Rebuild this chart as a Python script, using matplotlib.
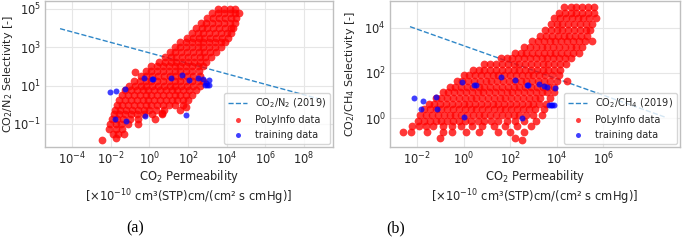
import numpy as np
import matplotlib
matplotlib.use("Agg")
import matplotlib.pyplot as plt
from matplotlib.ticker import FixedLocator, LogFormatterSciNotation

# PoLyInfo cloud: (log10 selectivity, [log10 permeability ...])
poly_a_rows = [
    (5.0, [3.55, 3.85, 4.15, 4.45]),
    (4.75, [3.25, 3.55, 3.85, 4.15, 4.45, 4.65]),
    (4.5, [3.0, 3.3, 3.6, 3.9, 4.2, 4.5]),
    (4.25, [2.65, 2.95, 3.25, 3.55, 3.85, 4.15, 4.45]),
    (4.0, [2.4, 2.7, 3.0, 3.3, 3.6, 3.9, 4.2, 4.35]),
    (3.75, [2.2, 2.5, 2.8, 3.1, 3.4, 3.7, 4.0, 4.2]),
    (3.5, [1.95, 2.25, 2.55, 2.85, 3.15, 3.45, 3.75, 4.05]),
    (3.25, [1.6, 1.9, 2.2, 2.5, 2.8, 3.1, 3.4, 3.7, 3.9]),
    (3.0, [1.3, 1.6, 1.9, 2.2, 2.5, 2.8, 3.1, 3.4, 3.7]),
    (2.75, [1.05, 1.35, 1.65, 1.95, 2.25, 2.55, 2.85, 3.15, 3.45]),
    (2.5, [0.8, 1.1, 1.4, 1.7, 2.0, 2.3, 2.6, 2.9, 3.2]),
    (2.25, [0.5, 0.8, 1.1, 1.4, 1.7, 2.0, 2.3, 2.6, 2.95]),
    (2.0, [0.1, 0.4, 0.7, 1.0, 1.3, 1.6, 1.9, 2.2, 2.5, 2.8]),
    (1.75, [-0.2, 0.1, 0.4, 0.7, 1.0, 1.3, 1.6, 1.9, 2.2, 2.55]),
    (1.5, [-0.45, -0.15, 0.15, 0.45, 0.75, 1.05, 1.35, 1.65, 1.95, 2.25, 2.6]),
    (1.25, [-0.8, -0.5, -0.2, 0.1, 0.4, 0.7, 1.0, 1.3, 1.6, 1.9, 2.2, 2.5, 2.8]),
    (1.0, [-1.05, -0.75, -0.45, -0.15, 0.15, 0.45, 0.75, 1.05, 1.35, 1.65, 1.95, 2.25, 2.6]),
    (0.75, [-1.25, -0.95, -0.65, -0.35, -0.05, 0.25, 0.55, 0.85, 1.15, 1.45, 1.75, 2.05, 2.4]),
    (0.5, [-1.4, -1.1, -0.8, -0.5, -0.2, 0.1, 0.4, 0.7, 1.0, 1.3, 1.6, 1.9, 2.2]),
    (0.25, [-1.55, -1.25, -0.95, -0.65, -0.35, -0.05, 0.25, 0.55, 0.85, 1.15, 1.45, 1.75, 2.0]),
    (0.0, [-1.7, -1.4, -1.1, -0.8, -0.5, -0.2, 0.1, 0.4, 0.7, 1.0, 1.35, 1.75]),
    (-0.25, [-1.8, -1.5, -1.2, -0.9, -0.6, -0.3, 0.0, 0.35, 0.75, 1.6]),
    (-0.5, [-1.85, -1.55, -1.25, -0.95, -0.65, -0.3, 0.15, 0.65]),
    (-0.75, [-1.95, -1.65, -1.35, -1.0, -0.6, 0.3]),
    (-1.0, [-2.05, -1.75, -1.45, -1.1, -0.6]),
    (-1.25, [-2.1, -1.75, -1.4]),
    (-1.5, [-1.9, -1.6, -1.3]),
    (-1.75, [-1.75]),
    (-1.85, [-2.45]),
    (1.68, [-0.74]),
    (-0.45, [0.64]),
    (-0.11, [1.9]),
]

poly_b_rows = [
    (4.9, [4.3, 4.6, 4.85, 5.1, 5.35, 5.6]),
    (4.65, [4.1, 4.35, 4.6, 4.85, 5.1, 5.35, 5.6]),
    (4.4, [3.9, 4.15, 4.4, 4.65, 4.9, 5.15, 5.4, 5.7]),
    (4.15, [3.75, 4.0, 4.25, 4.5, 4.75, 5.0, 5.25, 5.5]),
    (3.9, [3.5, 3.75, 4.0, 4.25, 4.5, 4.75, 5.0, 5.25, 5.45]),
    (3.65, [3.3, 3.55, 3.8, 4.05, 4.3, 4.55, 4.8, 5.05, 5.3]),
    (3.4, [2.95, 3.2, 3.45, 3.7, 3.95, 4.2, 4.45, 4.7, 4.95, 5.2, 5.5]),
    (3.15, [2.6, 2.85, 3.1, 3.35, 3.6, 3.85, 4.1, 4.35, 4.6, 4.85, 5.1]),
    (2.9, [2.2, 2.45, 2.7, 2.95, 3.2, 3.45, 3.7, 3.95, 4.2, 4.45, 4.7, 4.95]),
    (2.65, [1.6, 1.85, 2.1, 2.35, 2.6, 2.85, 3.1, 3.35, 3.6, 3.85, 4.1, 4.35, 4.6]),
    (2.4, [0.9, 1.15, 1.4, 1.65, 1.9, 2.15, 2.4, 2.65, 2.9, 3.15, 3.4, 3.65, 3.9, 4.15, 4.4]),
    (2.15, [0.4, 0.65, 0.9, 1.15, 1.4, 1.65, 1.9, 2.15, 2.4, 2.65, 2.9, 3.15, 3.4, 3.65, 3.9, 4.15]),
    (1.9, [0.0, 0.25, 0.5, 0.75, 1.0, 1.25, 1.5, 1.75, 2.0, 2.25, 2.5, 2.75, 3.0, 3.25, 3.5, 3.8, 4.1]),
    (1.65, [-0.3, -0.05, 0.2, 0.45, 0.7, 0.95, 1.2, 1.45, 1.7, 1.95, 2.2, 2.45, 2.7, 2.95, 3.2, 3.45, 3.7, 4.0, 4.44]),
    (1.4, [-0.6, -0.35, -0.1, 0.15, 0.4, 0.65, 0.9, 1.15, 1.4, 1.65, 1.9, 2.15, 2.4, 2.65, 2.9, 3.15, 3.4, 3.65, 3.9]),
    (1.15, [-0.9, -0.65, -0.4, -0.15, 0.1, 0.35, 0.6, 0.85, 1.1, 1.35, 1.6, 1.85, 2.1, 2.35, 2.6, 2.85, 3.1, 3.35, 3.6, 3.9]),
    (0.9, [-1.2, -0.95, -0.7, -0.45, -0.2, 0.05, 0.3, 0.55, 0.8, 1.05, 1.3, 1.55, 1.8, 2.05, 2.3, 2.55, 2.8, 3.05, 3.3, 3.7]),
    (0.65, [-1.5, -1.25, -1.0, -0.75, -0.5, -0.25, 0.0, 0.25, 0.5, 0.75, 1.0, 1.25, 1.5, 1.75, 2.0, 2.25, 2.5, 2.75, 3.0, 3.25, 3.55]),
    (0.4, [-1.7, -1.45, -1.2, -0.95, -0.7, -0.45, -0.2, 0.05, 0.3, 0.55, 0.8, 1.05, 1.3, 1.55, 1.8, 2.05, 2.3, 2.55, 2.8, 3.05, 3.45]),
    (0.15, [-1.85, -1.6, -1.35, -1.1, -0.85, -0.6, -0.35, -0.1, 0.15, 0.4, 0.65, 0.9, 1.15, 1.4, 1.65, 1.9, 2.15, 2.4, 2.7, 3.0, 3.35]),
    (-0.1, [-1.95, -1.7, -1.45, -1.2, -0.95, -0.7, -0.45, -0.2, 0.05, 0.3, 0.6, 0.9, 1.2, 1.5, 1.85, 2.2, 2.6, 3.1]),
    (-0.35, [-2.2, -1.9, -1.6, -1.3, -0.9, -0.5, -0.1, 0.35, 0.8, 1.3, 1.8, 2.3, 2.9]),
    (-0.6, [-2.6, -2.25, -1.55, -0.9, -0.5, 0.1, 0.65, 1.5, 2.0, 2.6]),
    (-0.85, [-1.0, 2.2]),
    (-0.97, [2.5]),
]

# training data (log10 values)
train_a_logP = [-2.03, -1.72, -1.24, -1.79, -1.22, -0.27, 0.12, 0.17, -0.21, 1.12,
                1.68, 2.07, 1.90, 2.53, 2.79, 3.10, 2.90, 3.00, 3.10, 2.93]
train_a_logS = [0.66, 0.71, 0.83, -0.76, -0.86, 1.39, 1.36, 1.36, -0.61, 1.39,
                1.56, 1.29, -0.52, 1.39, 1.32, 1.29, 1.05, 1.05, 1.05, 1.15]
train_b_logP = [-2.13, -1.76, -1.18, -1.84, -1.14, -0.08, 0.46, 0.53, 0.04, 1.60, 2.23,
                2.72, 2.78, 2.50, 3.25, 3.47, 3.58, 3.95, 3.68, 3.75, 3.82, 3.89]
train_b_logS = [0.89, 0.76, 0.94, 0.41, 0.42, 1.60, 1.48, 1.48, 0.07, 1.83, 1.70,
                1.48, 1.48, 0.01, 1.52, 1.42, 1.38, 1.35, 0.60, 0.58, 0.58, 0.58]

# 2019 upper bounds: end points (log10 P, log10 selectivity)
bound_a_logP = [-4.62, 8.8]
bound_a_logS = [3.96, 0.30]
bound_b_logP = [-2.3, 8.73]
bound_b_logS = [4.04, 0.03]

text_col = "#262626"
plt.rcParams["font.size"] = 8.3
plt.rcParams["text.color"] = text_col
plt.rcParams["axes.labelcolor"] = text_col
plt.rcParams["xtick.color"] = text_col
plt.rcParams["ytick.color"] = text_col


def rows_to_xy(rows):
    xs = [x for y, row in rows for x in row]
    ys = [y for y, row in rows for x in row]
    return 10 ** np.array(xs), 10 ** np.array(ys)


def draw_panel(ax, rows, tlp, tls, blp, bls, gas, bound_label, xlim, ylim, xticks, yticks, ylab_x):
    ax.plot(10 ** np.array(blp), 10 ** np.array(bls), "--", color="#2f87c8", lw=1.0,
            label=bound_label)
    px, py = rows_to_xy(rows)
    ax.plot(px, py, "o", color="red", alpha=0.78, ms=5.6, mew=0, label="PoLyInfo data")
    ax.plot(10 ** np.array(tlp), 10 ** np.array(tls), "o", color="blue", alpha=0.75,
            ms=4.3, mew=0, label="training data")
    ax.set_xscale("log")
    ax.set_yscale("log")
    ax.set_xlim(10 ** xlim[0], 10 ** xlim[1])
    ax.set_ylim(10 ** ylim[0], 10 ** ylim[1])
    ax.xaxis.set_major_locator(FixedLocator([10.0 ** t for t in xticks]))
    ax.yaxis.set_major_locator(FixedLocator([10.0 ** t for t in yticks]))
    ax.xaxis.set_major_formatter(LogFormatterSciNotation())
    ax.yaxis.set_major_formatter(LogFormatterSciNotation())
    ax.minorticks_off()
    ax.tick_params(length=0, pad=3, labelsize=8.3)
    ax.grid(True, color="#e6e6e6", lw=0.8)
    ax.set_axisbelow(True)
    for s in ax.spines.values():
        s.set_color("#bfbfbf")
        s.set_linewidth(1.0)
    ax.set_xlabel("CO$_2$ Permeability\n[×10$^{-10}$ cm³(STP)cm/(cm² s cmHg)]", labelpad=0)
    ax.set_ylabel("CO$_2$/" + gas + " Selectivity [-]", fontsize=8)
    ax.yaxis.set_label_coords(ylab_x, 0.5)
    leg = ax.legend(loc="lower right", fontsize=7, frameon=True, borderaxespad=0.3,
                    handlelength=2.0)
    leg.get_frame().set_edgecolor("#cccccc")
    for h in leg.legend_handles[1:]:
        h.set_alpha(0.75)
        h.set_markersize(3.6)


fig = plt.figure(figsize=(6.86, 2.46), dpi=100)
ax_a = fig.add_axes([45 / 686, 1 - 147 / 246, 288 / 686, 146 / 246])
ax_b = fig.add_axes([390 / 686, 1 - 147 / 246, 290 / 686, 146 / 246])

draw_panel(ax_a, poly_a_rows, train_a_logP, train_a_logS, bound_a_logP, bound_a_logS,
           "N$_2$", "CO$_2$/N$_2$ (2019)", (-5.4, 9.5), (-2.2, 5.4),
           [-4, -2, 0, 2, 4, 6, 8], [-1, 1, 3, 5], -0.104)
draw_panel(ax_b, poly_b_rows, train_b_logP, train_b_logS, bound_b_logP, bound_b_logS,
           "CH$_4$", "CO$_2$/CH$_4$ (2019)", (-3.16, 9.3), (-1.26, 5.17),
           [-2, 0, 2, 4, 6], [0, 2, 4], -0.114)

fig.text(135 / 686, 1 - 228 / 246, "(a)", family="Liberation Serif", fontsize=11.5,
         color="black", ha="center", va="center")
fig.text(396 / 686, 1 - 228 / 246, "(b)", family="Liberation Serif", fontsize=11.5,
         color="black", ha="center", va="center")

fig.savefig("out.png", dpi=100)
